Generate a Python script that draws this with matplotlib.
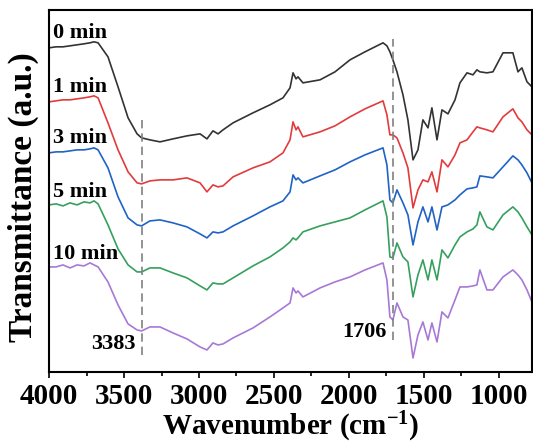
import matplotlib
matplotlib.use("Agg")
import matplotlib.pyplot as plt
from matplotlib.ticker import MultipleLocator

# wavenumber grid shared by all spectra (cm^-1)
wavenumber = [4000, 3953, 3907, 3860, 3813, 3767, 3727, 3700, 3673, 3607,
              3540, 3473, 3413, 3383, 3327, 3260, 3173, 3080, 2993, 2947,
              2907, 2873, 2840, 2773, 2640, 2527, 2440, 2393, 2373, 2353,
              2340, 2307, 2193, 2093, 1993, 1893, 1773, 1747, 1727, 1707,
              1680, 1640, 1607, 1573, 1540, 1507, 1473, 1447, 1413, 1380,
              1340, 1293, 1260, 1213, 1173, 1147, 1127, 1080, 1040, 973,
              907, 873, 847, 813, 780]

# transmittance (a.u., already offset for stacking)
t_0min = [324, 325, 325, 326, 327, 328, 329, 330, 329, 315,
          285, 254, 238, 234, 232, 230, 233, 236, 238, 233,
          241, 238, 242, 249, 259, 267, 274, 284, 299, 293,
          295, 289, 292, 300, 312, 320, 329, 326, 320, 312,
          300, 277, 252, 212, 222, 252, 244, 264, 232, 262,
          258, 272, 289, 299, 297, 302, 300, 299, 300, 319,
          319, 300, 304, 290, 285]
t_1min = [270, 271, 272, 272, 273, 274, 275, 276, 274, 249,
          222, 200, 189, 188, 191, 192, 192, 194, 189, 180,
          187, 185, 186, 195, 204, 210, 219, 232, 250, 242,
          245, 235, 240, 246, 255, 263, 271, 257, 237, 237,
          234, 219, 204, 164, 182, 192, 190, 200, 180, 212,
          205, 217, 229, 232, 240, 245, 244, 242, 240, 255,
          263, 254, 250, 242, 237]
t_3min = [219, 220, 220, 221, 222, 222, 223, 224, 222, 204,
          175, 154, 147, 146, 151, 152, 149, 145, 138, 134,
          140, 139, 140, 146, 156, 165, 171, 180, 197, 192,
          194, 189, 196, 202, 210, 217, 224, 207, 172, 169,
          182, 169, 157, 127, 150, 165, 150, 165, 142, 165,
          167, 172, 177, 183, 184, 185, 196, 195, 194, 205,
          216, 212, 207, 199, 189]
t_5min = [167, 168, 166, 169, 167, 170, 169, 171, 168, 147,
          123, 107, 100, 100, 104, 104, 99, 94, 86, 82,
          89, 88, 88, 94, 106, 115, 124, 130, 134, 132,
          134, 140, 146, 150, 154, 162, 171, 155, 115, 114,
          129, 115, 110, 75, 97, 112, 92, 112, 92, 122,
          114, 127, 135, 140, 143, 147, 160, 145, 142, 157,
          165, 160, 154, 145, 137]
t_10min = [105, 105, 107, 104, 107, 106, 109, 107, 105, 90,
           67, 48, 42, 41, 45, 45, 39, 33, 25, 22,
           29, 27, 28, 34, 44, 55, 64, 69, 84, 79,
           81, 75, 84, 90, 95, 102, 109, 92, 55, 52,
           69, 55, 52, 14, 37, 50, 32, 49, 30, 60,
           54, 72, 85, 85, 86, 87, 102, 82, 82, 95,
           102, 97, 92, 82, 70]

series = [t_0min, t_1min, t_3min, t_5min, t_10min]
labels = ["0 min", "1 min", "3 min", "5 min", "10 min"]
label_y = [339, 285, 234, 180, 118]
colors = ["#333333", "#e23b3d", "#1f63c6", "#35a05e", "#a878d6"]

peaks = [3383, 1706]
peak_spans = [(17, 255), (32, 333)]
peak_text_y = [28, 40]

plt.rcParams["font.family"] = ["Liberation Serif", "DejaVu Serif"]
plt.rcParams["font.weight"] = "bold"
plt.rcParams["mathtext.fontset"] = "custom"
plt.rcParams["mathtext.rm"] = "Liberation Serif:bold"
plt.rcParams["mathtext.default"] = "rm"

fig = plt.figure(figsize=(5.33, 4.46), dpi=100)
ax = fig.add_axes([0.092, 0.166, 0.906, 0.812])

for y, c in zip(series, colors):
    ax.plot(wavenumber, y, color=c, lw=1.2)

for lab, ly in zip(labels, label_y):
    ax.text(3975, ly, lab, fontsize=16, fontweight="bold", ha="left", va="center")

for p, (y0, y1), ty in zip(peaks, peak_spans, peak_text_y):
    ax.plot([p, p], [y0, y1], color="#808080", lw=1.2, ls=(0, (5, 3)))
    ax.text(p + 40, ty, str(p), fontsize=16, fontweight="bold", ha="right", va="center")

ax.set_xlim(4000, 780)
ax.set_ylim(0, 362)
ax.set_yticks([])
ax.xaxis.set_major_locator(MultipleLocator(500))
ax.xaxis.set_minor_locator(MultipleLocator(250))
ax.tick_params(axis="x", which="major", direction="out", length=4, width=1.2,
               labelsize=21, pad=4)
ax.tick_params(axis="x", which="minor", direction="out", length=3, width=1.2)
for s in ax.spines.values():
    s.set_linewidth(1.5)

ax.set_xlabel("Wavenumber (cm$^{-1}$)", fontsize=21, fontweight="bold", labelpad=0)
ax.set_ylabel("Transmittance (a.u.)", fontsize=24, fontweight="bold")
ax.yaxis.set_label_coords(-0.02, 0.482)

fig.savefig("out.png", dpi=100)
